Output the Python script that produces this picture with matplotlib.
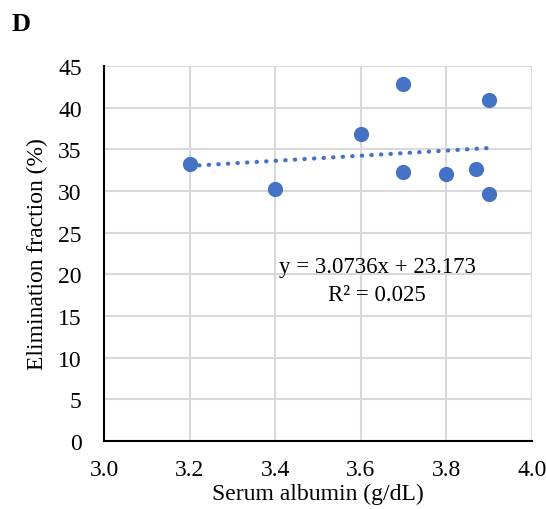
import matplotlib.pyplot as plt
import numpy as np

albumin = [3.2, 3.4, 3.6, 3.7, 3.7, 3.8, 3.87, 3.9, 3.9]
elimination = [33.2, 30.3, 36.8, 42.9, 32.3, 32.1, 32.6, 40.9, 29.6]
slope = 3.0736
intercept = 23.173
r_squared = 0.025

plt.rcParams['font.family'] = ['Liberation Serif', 'DejaVu Serif']
blue = '#4472C4'

fig = plt.figure(figsize=(5.46, 5.10), dpi=100)
ax = fig.add_axes([0.1905, 0.1333, 0.7835, 0.7353])

ax.scatter(albumin, elimination, s=120, color=blue, zorder=3, linewidths=0)

trend_x = np.array([min(albumin), max(albumin)])
ax.plot(trend_x, slope * trend_x + intercept, color=blue, linestyle=(0, (0.1, 2.2)),
        linewidth=3, dash_capstyle='round', zorder=2)

ax.text(3.638, 21.0, f'y = {slope}x + {intercept}', ha='center', va='center', fontsize=16.5)
ax.text(3.638, 17.6, f'R² = {r_squared}', ha='center', va='center', fontsize=16.5)

ax.set_xlim(3.0, 4.0)
ax.set_ylim(0, 45)
ax.set_xticks(np.arange(3.0, 4.01, 0.2))
ax.set_xticklabels([f'{v:.1f}' for v in np.arange(3.0, 4.01, 0.2)])
ax.set_yticks(range(0, 46, 5))
ax.grid(True, color='#d9d9d9', linewidth=1.5, zorder=0)
ax.set_axisbelow(True)
for side in ['top', 'right']:
    ax.spines[side].set_visible(False)
for side in ['left', 'bottom']:
    ax.spines[side].set_linewidth(1.5)
    ax.spines[side].set_color('black')
ax.tick_params(length=0, labelsize=17)
ax.tick_params(axis='x', pad=13)
ax.tick_params(axis='y', pad=16)

ax.set_xlabel('Serum albumin (g/dL)', fontsize=17, labelpad=2)
ax.set_ylabel('Elimination fraction (%)', fontsize=17, labelpad=7)

fig.text(0.022, 0.951, 'D', fontsize=19, fontweight='bold', va='center')

fig.savefig('out.png', dpi=100)
